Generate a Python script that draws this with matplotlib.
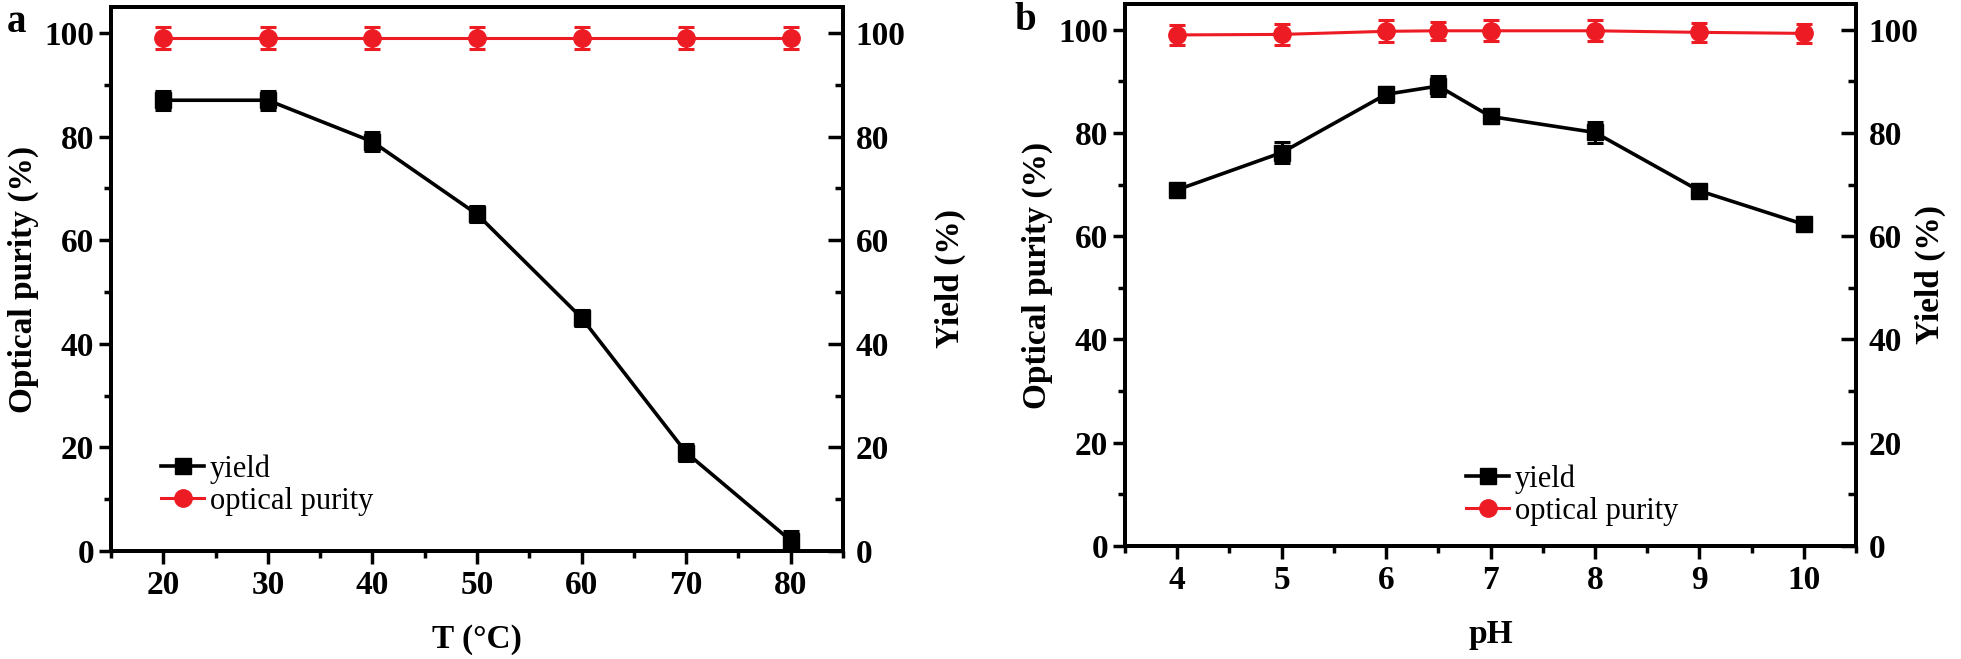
import matplotlib.pyplot as plt
from matplotlib.ticker import MultipleLocator

plt.rcParams['font.family'] = ['Liberation Serif', 'DejaVu Serif']
plt.rcParams['font.weight'] = 'bold'
plt.rcParams['axes.labelweight'] = 'bold'

# panel a: temperature
temp = [20, 30, 40, 50, 60, 70, 80]
yield_t = [87, 87, 79, 65, 45, 19, 2]
yield_t_err = [1.8, 1.8, 1.8, 1.5, 1.6, 1.6, 1.8]
purity_t = [99, 99, 99, 99, 99, 99, 99]
purity_t_err = [2.1, 2.1, 2.1, 2.1, 2.1, 2.1, 2.1]

# panel b: pH
ph = [4, 5, 6, 6.5, 7, 8, 9, 10]
yield_ph = [69.0, 76.2, 87.5, 89.1, 83.2, 80.1, 68.8, 62.3]
yield_ph_err = [1.0, 2.0, 1.5, 2.0, 1.2, 2.0, 1.0, 1.0]
purity_ph = [99.0, 99.1, 99.7, 99.8, 99.8, 99.8, 99.5, 99.3]
purity_ph_err = [1.9, 2.0, 2.1, 1.8, 2.0, 2.0, 1.8, 1.9]

RED = '#ED1C24'
FS = 24


def draw_panel(ax, x, y_yield, e_yield, y_pur, e_pur, xlim, xmaj, xlabel,
               leg_anchor, right_label_x):
    ax.set_xlim(*xlim)
    ax.set_ylim(0, 105)
    l1 = ax.errorbar(x, y_yield, yerr=e_yield, color='black', marker='s', markersize=11.5,
                     linewidth=2.6, elinewidth=2.2, capsize=6, capthick=2.2, zorder=3)
    l2 = ax.errorbar(x, y_pur, yerr=e_pur, color=RED, marker='o', markersize=12.5,
                     linewidth=2.2, elinewidth=2.2, capsize=6, capthick=2.2, zorder=3)
    ax.xaxis.set_major_locator(MultipleLocator(xmaj))
    ax.xaxis.set_minor_locator(MultipleLocator(xmaj / 2))
    ax.yaxis.set_major_locator(MultipleLocator(20))
    ax.yaxis.set_minor_locator(MultipleLocator(10))
    ax.tick_params(which='both', direction='out', width=2.5, labelsize=FS,
                   top=False, right=False)
    ax.tick_params(which='major', length=9, pad=3)
    ax.tick_params(which='minor', length=5)
    ax.tick_params(axis='x', which='major', pad=5)
    for s in ax.spines.values():
        s.set_linewidth(2.8)
    ax.set_xlabel(xlabel, fontsize=FS, labelpad=16)
    ax.set_ylabel('Optical purity (%)', fontsize=FS, labelpad=4)

    ax2 = ax.twinx()
    ax2.set_ylim(0, 105)
    ax2.yaxis.set_major_locator(MultipleLocator(20))
    ax2.yaxis.set_minor_locator(MultipleLocator(10))
    ax2.tick_params(which='both', direction='in', width=2.5, labelsize=FS, pad=9)
    ax2.tick_params(which='major', length=11)
    ax2.tick_params(which='minor', length=6)
    for s in ax2.spines.values():
        s.set_linewidth(2.8)
    ax2.set_ylabel('Yield (%)', fontsize=FS)
    ax2.yaxis.set_label_coords(right_label_x, 0.5)

    ax.legend([l1[0], l2[0]], ['yield', 'optical purity'], loc='lower left',
              bbox_to_anchor=leg_anchor, frameon=False,
              prop={'family': 'Liberation Serif', 'weight': 'normal', 'size': 22},
              handlelength=1.4, handletextpad=0.2, labelspacing=0.1, borderaxespad=0)


fig = plt.figure(figsize=(19.61, 6.59), dpi=100)
ax_a = fig.add_axes([0.0566, 0.1639, 0.3733, 0.8255])
ax_b = fig.add_axes([0.5737, 0.1715, 0.3728, 0.8225])

draw_panel(ax_a, temp, yield_t, yield_t_err, purity_t, purity_t_err,
           (15, 85), 10, 'T (\u00b0C)', (0.052, 0.042), 1.125)
draw_panel(ax_b, ph, yield_ph, yield_ph_err, purity_ph, purity_ph_err,
           (3.5, 10.5), 1, 'pH', (0.45, 0.015), 1.08)

fig.text(16 / 1961, 1 - 22 / 659, 'a', fontsize=28, ha='center', va='center')
fig.text(1025 / 1961, 1 - 20 / 659, 'b', fontsize=28, ha='center', va='center')

fig.savefig('out.png', dpi=100)
